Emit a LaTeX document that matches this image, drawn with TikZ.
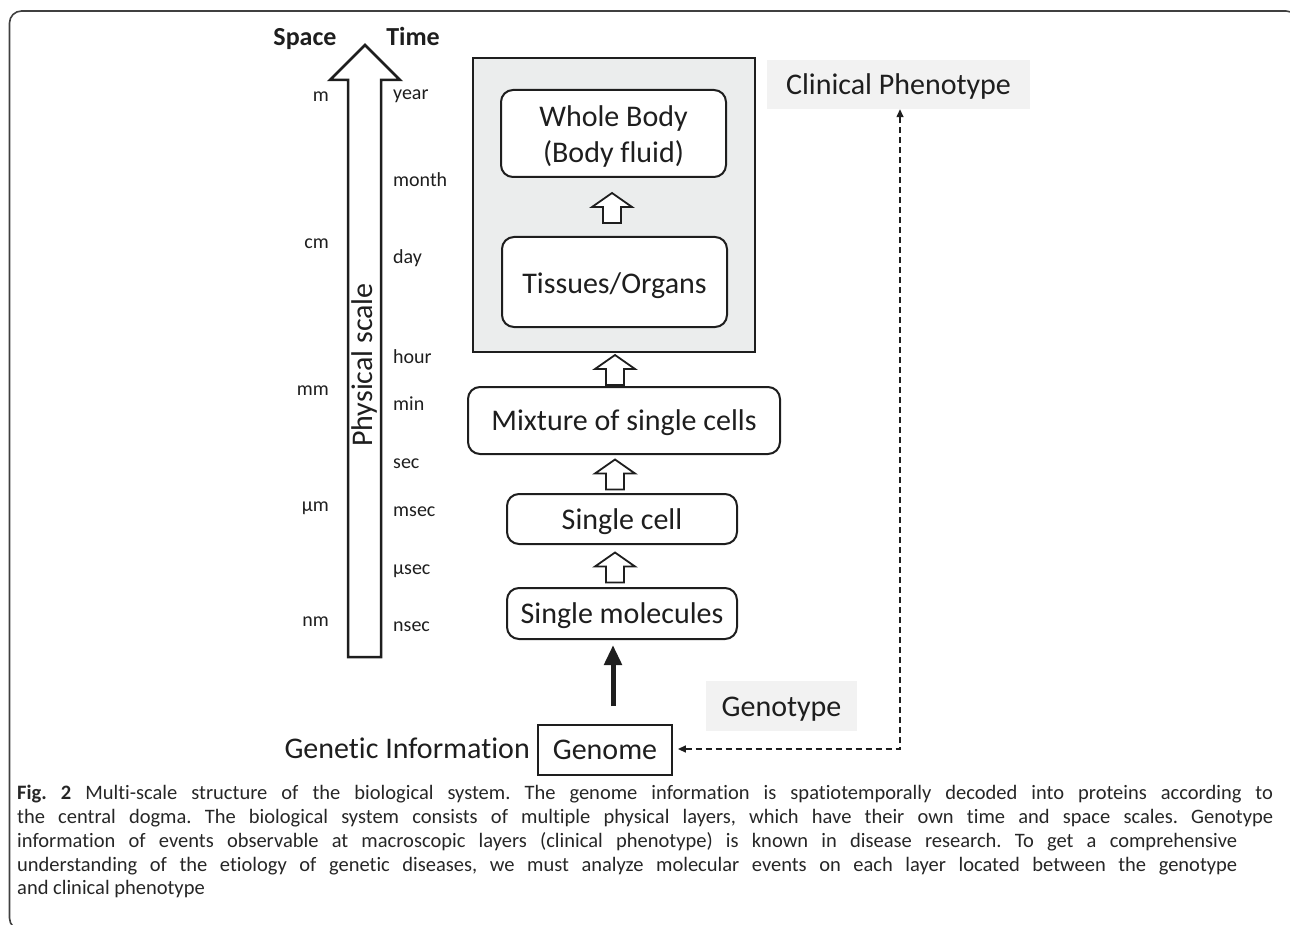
\documentclass[tikz,border=0pt]{standalone}
\usepackage{fontspec}
\setmainfont{Carlito}[Ligatures=NoCommon]
\newfontfamily\capfont{Carlito}[Ligatures=NoCommon]
\usetikzlibrary{arrows.meta,calc}
\definecolor{ink}{HTML}{1E1E1E}
\definecolor{contgray}{HTML}{EBEDED}
\definecolor{labgray}{HTML}{F2F2F2}
\definecolor{capink}{HTML}{262626}
\frenchspacing
\tikzset{
  big/.style={font=\fontsize{30}{36}\selectfont, text=ink},
  small/.style={font=\fontsize{20}{24}\selectfont, text=ink, inner sep=0pt},
  lowtext/.style={text height=30pt, text depth=10pt},
  layerbox/.style={big, draw=ink, line width=2pt, rounded corners=12pt, fill=white, inner sep=0pt, align=center},
  tag/.style={big, lowtext, fill=labgray, inner sep=0pt},
  capline/.style={font=\capfont\fontsize{20.5}{23}\selectfont, text=capink, inner sep=0pt, anchor=mid west},
  blockup/.pic={\draw[line width=1.8pt, draw=ink, fill=white, line join=miter]
      (0,-15) -- (20,-1) -- (9,-1) -- (9,15) -- (-9,15) -- (-9,-1) -- (-20,-1) -- cycle;},
  dasharrow/.style={draw=ink, line width=1.4pt, dash pattern=on 6pt off 4pt,
      {Triangle[length=8pt,width=7pt]}-{Triangle[length=8pt,width=7pt]}},
}
\begin{document}
\begin{tikzpicture}[x=1pt,y=-1pt]
\useasboundingbox (0,0) rectangle (1290,925);
% outer frame
\draw[draw=ink!85, line width=1.6pt, rounded corners=12pt] (9.5,11) rectangle (1298,930);

% physical scale arrow
\draw[draw=ink, line width=2.5pt, fill=white, line join=miter]
  (348,657) -- (348,80) -- (330,80) -- (365,45) -- (400,80) -- (381,80) -- (381,657) -- cycle;
\node[font=\fontsize{30}{34}\selectfont, text=ink, rotate=90, inner sep=0pt] (phys) at (364.5,365) {Physical scale};
\node[font=\bfseries\fontsize{26}{30}\selectfont, text=ink, inner sep=0pt, anchor=base] (space) at (305,46) {Space};
\node[font=\bfseries\fontsize{26}{30}\selectfont, text=ink, inner sep=0pt, anchor=base] (time) at (413,46) {Time};

% space labels
\node[small, anchor=mid east] (s1) at (329,99) {m};
\node[small, anchor=mid east] (s2) at (329,246) {cm};
\node[small, anchor=mid east] (s3) at (329,393) {mm};
\node[small, anchor=mid east] (s4) at (329,509) {µm};
\node[small, anchor=mid east] (s5) at (329,624) {nm};
% time labels
\node[small, anchor=mid west] (t1) at (393,97) {year};
\node[small, anchor=mid west] (t2) at (393,184) {month};
\node[small, anchor=mid west] (t3) at (393,261) {day};
\node[small, anchor=mid west] (t4) at (393,361) {hour};
\node[small, anchor=mid west] (t5) at (393,408) {min};
\node[small, anchor=mid west] (t6) at (393,466) {sec};
\node[small, anchor=mid west] (t7) at (393,514) {msec};
\node[small, anchor=mid west] (t8) at (393,572) {µsec};
\node[small, anchor=mid west] (t9) at (393,629) {nsec};

% container
\node[draw=ink, line width=2pt, fill=contgray, minimum width=282pt, minimum height=294pt, inner sep=0pt] (cont) at (614,205) {};
\node[layerbox, minimum width=225pt, minimum height=87pt] (whole) at (613.5,133.5) {};
\node[big, align=center, inner sep=0pt] (wholetext) at (613.5,136.5) {Whole Body\\(Body fluid)};
\node[layerbox, text height=32pt, text depth=8pt, minimum width=225pt, minimum height=90pt] (tissue) at (614.5,282) {Tissues/Organs};
\node[layerbox, lowtext, minimum width=312pt, minimum height=67pt] (mix) at (624,420.5) {Mixture of single cells};
\node[layerbox, lowtext, minimum width=230pt, minimum height=50pt] (cell) at (622,519) {Single cell};
\node[layerbox, lowtext, minimum width=230pt, minimum height=51pt] (mol) at (622,613.5) {Single molecules};

% hollow arrows
\pic at (612,208) {blockup};
\pic at (615,370) {blockup};
\pic at (615,474.5) {blockup};
\pic at (615,567.5) {blockup};

% genome
\node[big, draw=ink, line width=1.8pt, minimum width=134pt, minimum height=50pt, inner sep=0pt] (genome) at (605,750) {Genome};
\node[big, anchor=east, inner sep=0pt] (genetic) at (530,748) {Genetic Information};
\coordinate (gstart) at (613,706);
\draw[draw=ink, line width=5pt, -{Triangle[length=20pt,width=17pt]}, shorten >=5pt] (gstart) -- (mol.south -| gstart);

% tags
\node[tag, minimum width=151pt, minimum height=50pt] (genotype) at (781.5,706) {Genotype};
\node[tag, minimum width=263pt, minimum height=49pt] (clin) at (898.5,84.5) {Clinical Phenotype};

% dashed connector
\coordinate (corner) at (900,749);
\draw[dasharrow, shorten <=5pt] ($(genome.east)+(0,-1)$) -- (corner) -- (corner |- clin.south);

% caption
\node[capline] (c1) at (17,797) {\makebox[1256pt][s]{\textbf{Fig. 2} Multi-scale structure of the biological system. The genome information is spatiotemporally decoded into proteins according to}};
\node[capline] (c2) at (17,821) {\makebox[1256pt][s]{the central dogma. The biological system consists of multiple physical layers, which have their own time and space scales. Genotype}};
\node[capline] (c3) at (17,845) {\makebox[1220pt][s]{information of events observable at macroscopic layers (clinical phenotype) is known in disease research. To get a comprehensive}};
\node[capline] (c4) at (17,869) {\makebox[1220pt][s]{understanding of the etiology of genetic diseases, we must analyze molecular events on each layer located between the genotype}};
\node[capline] (c5) at (17,892) {and clinical phenotype};
\end{tikzpicture}
\end{document}
